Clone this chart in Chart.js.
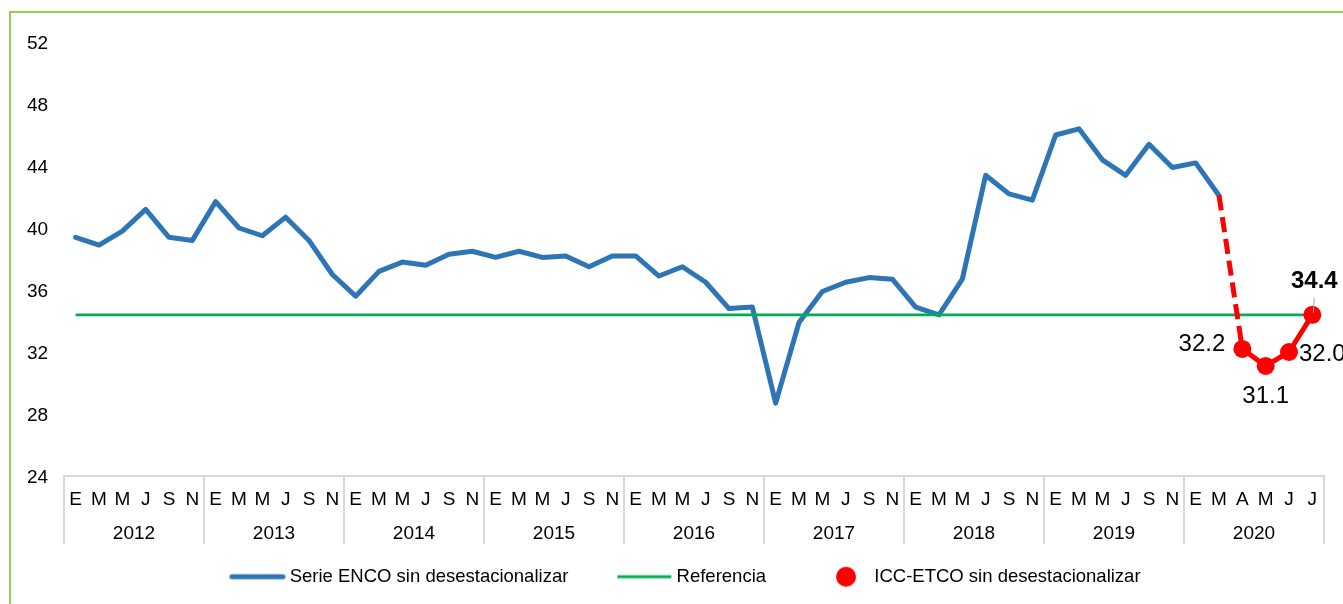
<!DOCTYPE html>
<html lang="es">
<head>
<meta charset="UTF-8">
<title>ICC - Serie ENCO</title>
<script src="https://cdn.jsdelivr.net/npm/chart.js@4.4.1/dist/chart.umd.min.js"></script>
<style>
  body { margin: 0; background: #fff; overflow: hidden; }
  #marco { position: absolute; left: 9px; top: 11px; width: 1400px; height: 700px;
           border-left: 2px solid #92d050; border-top: 2px solid #92d050; }
  #caja { position: absolute; left: 0; top: 0; width: 1343px; height: 604px; }
</style>
</head>
<body>
<div id="marco"></div>
<div id="caja"><canvas id="grafico"></canvas></div>
<script>
// datos
const anios = ['2012', '2013', '2014', '2015', '2016', '2017', '2018', '2019', '2020'];
const mesesAnio = ['E', 'M', 'M', 'J', 'S', 'N'];
const meses2020 = ['E', 'M', 'A', 'M', 'J', 'J'];

const serieEnco = [
  39.4, 38.9, 39.8, 41.2, 39.4, 39.2,
  41.7, 40.0, 39.5, 40.7, 39.2, 37.0,
  35.6, 37.2, 37.8, 37.6, 38.3, 38.5,
  38.1, 38.5, 38.1, 38.2, 37.5, 38.2,
  38.2, 36.9, 37.5, 36.5, 34.8, 34.9,
  28.7, 33.9, 35.9, 36.5, 36.8, 36.7,
  34.9, 34.4, 36.7, 43.4, 42.2, 41.8,
  46.0, 46.4, 44.4, 43.4, 45.4, 43.9,
  44.2, 42.1
];
const iccEtco = [32.2, 31.1, 32.0, 34.4];
const referencia = 34.4;

const etiquetas = [];
anios.forEach(a => (a === '2020' ? meses2020 : mesesAnio).forEach(m => etiquetas.push(m)));

// serie roja: tramo punteado desde el ultimo dato ENCO y luego ICC-ETCO
const iUnion = serieEnco.length - 1;
const datosIcc = etiquetas.map(() => null);
datosIcc[iUnion] = serieEnco[iUnion];
iccEtco.forEach((v, k) => { datosIcc[iUnion + 1 + k] = v; });

Chart.defaults.font.family = '"Liberation Sans", Arial, sans-serif';
Chart.defaults.font.size = 19;
Chart.defaults.color = '#000';

// iconos de la leyenda: caja de 70px, imagen de 100px centrada en ella
function imgLinea(color, desde, hasta, grosor, cap) {
  const c = document.createElement('canvas');
  c.width = 100; c.height = 8;
  const g = c.getContext('2d');
  g.strokeStyle = color; g.lineWidth = grosor; g.lineCap = cap;
  const r = cap === 'round' ? grosor / 2 : 0;
  g.beginPath(); g.moveTo(15 + desde + r, 4); g.lineTo(15 + hasta - r, 4); g.stroke();
  return c;
}
function imgPunto(color, cx) {
  const c = document.createElement('canvas');
  c.width = 100; c.height = 22;
  const g = c.getContext('2d');
  g.fillStyle = color;
  g.beginPath(); g.arc(15 + cx, 11, 10, 0, Math.PI * 2); g.fill();
  return c;
}
const iconos = [
  imgLinea('#2e75b6', 19, 75, 5, 'round'),
  imgLinea('#00b050', 20, 74, 3, 'butt'),
  imgPunto('#ff0000', 51)
];

// años y separadores bajo el eje
const aniosPlugin = {
  id: 'anios',
  afterDraw(chart) {
    const x = chart.scales.x, ctx = chart.ctx;
    const paso = x.width / etiquetas.length;
    ctx.save();
    ctx.strokeStyle = '#d9d9d9';
    ctx.lineWidth = 2;
    for (let k = 0; k <= anios.length; k++) {
      const px = x.left + k * 6 * paso;
      ctx.beginPath(); ctx.moveTo(px, x.top); ctx.lineTo(px, x.top + 68); ctx.stroke();
    }
    ctx.fillStyle = '#000';
    ctx.font = '19px "Liberation Sans", Arial, sans-serif';
    ctx.textAlign = 'center';
    ctx.textBaseline = 'middle';
    anios.forEach((a, k) => ctx.fillText(a, x.left + (k * 6 + 3) * paso, x.top + 58));
    ctx.restore();
  }
};

// etiquetas de valor de la serie ICC-ETCO
const valoresPlugin = {
  id: 'valores',
  afterDatasetsDraw(chart) {
    const meta = chart.getDatasetMeta(2), ctx = chart.ctx;
    const pos = [
      { dx: -17, dy: -5, align: 'right' },
      { dx: 0, dy: 30, align: 'center' },
      { dx: 10, dy: 2, align: 'left' },
      { dx: 2, dy: -33, align: 'center', bold: true }
    ];
    ctx.save();
    ctx.textBaseline = 'middle';
    ctx.fillStyle = '#000';
    iccEtco.forEach((v, k) => {
      const p = meta.data[iUnion + 1 + k], o = pos[k];
      if (o.bold) {
        ctx.strokeStyle = '#a6a6a6'; ctx.lineWidth = 1;
        ctx.beginPath(); ctx.moveTo(p.x + 1, p.y - 2); ctx.lineTo(p.x + 2, p.y - 17); ctx.stroke();
      }
      ctx.font = (o.bold ? 'bold ' : '') + '24px "Liberation Sans", Arial, sans-serif';
      ctx.textAlign = o.align;
      ctx.fillText(v.toFixed(1), p.x + o.dx, p.y + o.dy);
    });
    ctx.restore();
  }
};

new Chart(document.getElementById('grafico'), {
  type: 'line',
  data: {
    labels: etiquetas,
    datasets: [
      {
        label: 'Serie ENCO sin desestacionalizar',
        data: serieEnco,
        borderColor: '#2e75b6',
        borderWidth: 5,
        borderJoinStyle: 'round',
        borderCapStyle: 'round',
        pointRadius: 0,
        order: 3
      },
      {
        label: 'Referencia',
        data: etiquetas.map(() => referencia),
        borderColor: '#00b050',
        borderWidth: 2.75,
        pointRadius: 0,
        order: 2
      },
      {
        label: 'ICC-ETCO sin desestacionalizar',
        data: datosIcc,
        borderColor: '#ff0000',
        backgroundColor: '#ff0000',
        borderWidth: 5,
        pointRadius: c => c.dataIndex > iUnion ? 9 : 0,
        pointBorderWidth: 0,
        segment: {
          borderDash: c => c.p0DataIndex === iUnion ? [15, 7] : undefined
        },
        order: 1
      }
    ]
  },
  options: {
    responsive: true,
    maintainAspectRatio: false,
    animation: false,
    layout: { padding: { left: 27, right: 19, top: 42, bottom: 8 } },
    scales: {
      x: {
        offset: true,
        grid: { display: false, drawTicks: false },
        border: { color: '#d9d9d9', width: 2 },
        ticks: { padding: 12, autoSkip: false, maxRotation: 0 },
        afterFit: s => { s.height = 62.5; }
      },
      y: {
        min: 24,
        max: 52,
        ticks: { stepSize: 4, crossAlign: 'far', labelOffset: 2 },
        grid: { display: false, drawTicks: false },
        border: { display: false },
        afterFit: s => { s.width = 37; }
      }
    },
    plugins: {
      tooltip: { enabled: false },
      legend: {
        position: 'bottom',
        labels: {
          usePointStyle: true,
          pointStyleWidth: 70,
          padding: 29,
          font: { size: 18.5 },
          generateLabels: chart => Chart.defaults.plugins.legend.labels.generateLabels(chart)
            .sort((a, b) => a.datasetIndex - b.datasetIndex)
            .map(it => Object.assign(it, { pointStyle: iconos[it.datasetIndex] }))
        }
      }
    }
  },
  plugins: [aniosPlugin, valoresPlugin]
});
</script>
</body>
</html>
